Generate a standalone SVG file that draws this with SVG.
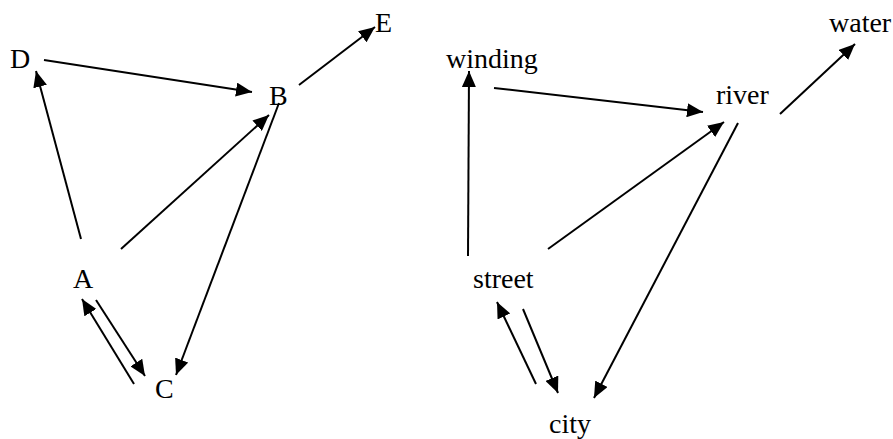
<svg xmlns="http://www.w3.org/2000/svg" width="893" height="439" viewBox="0 0 893 439">
<style>
text{font-family:"Liberation Serif","Times New Roman",serif;font-size:28px;fill:#000}
.e line{stroke:#000;stroke-width:2;fill:none;marker-end:url(#ah)}
</style>
<defs>
<marker id="ah" markerUnits="userSpaceOnUse" markerWidth="17" markerHeight="14" refX="16" refY="7" orient="auto">
<path d="M0,0 L16,7 L0,14 Z" fill="#000"/>
</marker>
</defs>
<rect width="893" height="439" fill="#fff"/>
<g id="nD"><text x="10" y="68">D</text></g>
<g id="nB"><text x="269" y="105">B</text></g>
<g id="nE"><text x="375" y="32">E</text></g>
<g id="nA"><text x="73" y="288">A</text></g>
<g id="nC"><text x="155" y="398">C</text></g>
<g id="nwinding"><text x="446" y="68">winding</text></g>
<g id="nriver"><text x="716" y="104">river</text></g>
<g id="nwater"><text x="829" y="32">water</text></g>
<g id="nstreet"><text x="473" y="288">street</text></g>
<g id="ncity"><text x="549" y="433">city</text></g>
<g id="edges" class="e">
<line x1="44" y1="60" x2="252" y2="92"/>
<line x1="299" y1="85" x2="375" y2="27"/>
<line x1="81" y1="239" x2="36" y2="71"/>
<line x1="121" y1="249" x2="269" y2="115"/>
<line x1="279" y1="103" x2="176" y2="375"/>
<line x1="96" y1="300" x2="145" y2="376"/>
<line x1="134" y1="384" x2="82" y2="299"/>
<line x1="494" y1="88" x2="703" y2="112"/>
<line x1="780" y1="114" x2="855" y2="44"/>
<line x1="468" y1="256" x2="469" y2="71"/>
<line x1="548" y1="249" x2="724" y2="122"/>
<line x1="738" y1="123" x2="594" y2="398"/>
<line x1="523" y1="309" x2="558" y2="393"/>
<line x1="536" y1="384" x2="497" y2="302"/>
</g>
</svg>
